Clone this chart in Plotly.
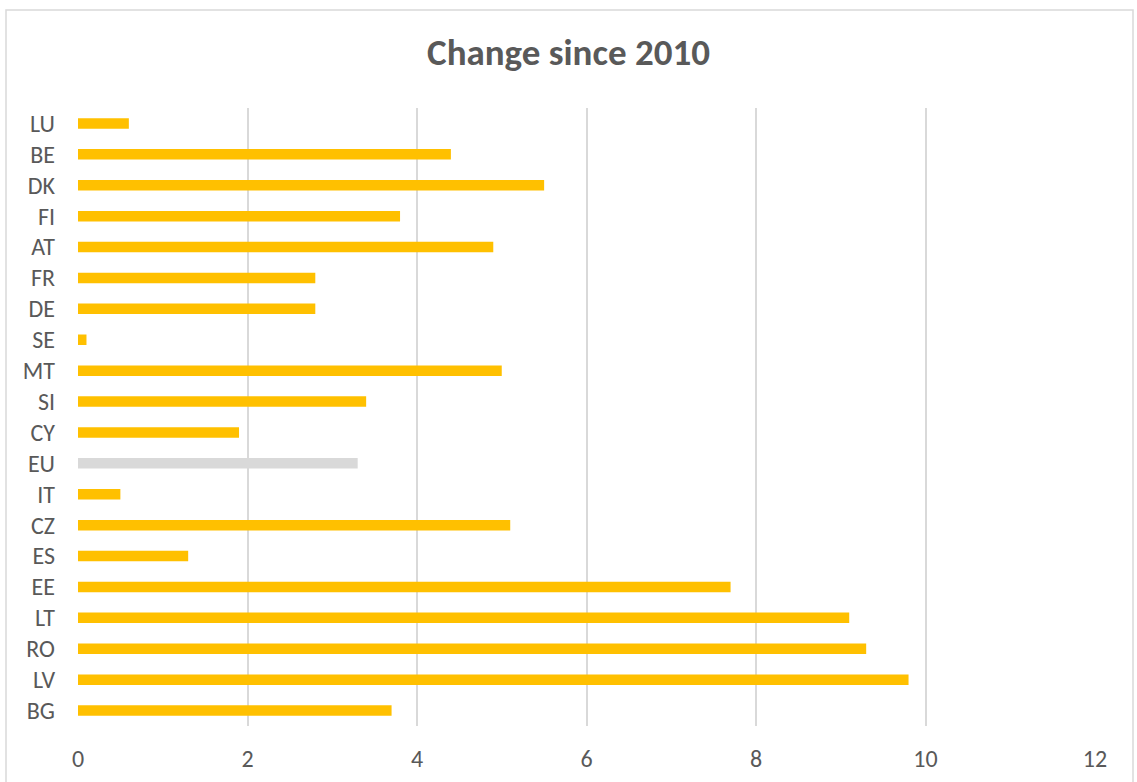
import plotly.graph_objects as go

# Countries listed bottom-to-top as they appear on the axis
countries = ["BG", "LV", "RO", "LT", "EE", "ES", "CZ", "IT", "EU", "CY",
             "SI", "MT", "SE", "DE", "FR", "AT", "FI", "DK", "BE", "LU"]
change = [3.7, 9.8, 9.3, 9.1, 7.7, 1.3, 5.1, 0.5, 3.3, 1.9,
          3.4, 5.0, 0.1, 2.8, 2.8, 4.9, 3.8, 5.5, 4.4, 0.6]
x_ticks = [0, 2, 4, 6, 8, 10, 12]

GOLD = "#FFC000"
GREY = "#D9D9D9"
TEXT = "#595959"
FONT = "Calibri, Carlito, Lato, sans-serif"

colors = [GREY if c == "EU" else GOLD for c in countries]

W, H = 1137, 782
L, R, T, B = 78, 42, 108, 56

fig = go.Figure(
    go.Bar(
        x=change,
        y=countries,
        orientation="h",
        marker=dict(color=colors, line=dict(width=0)),
        width=0.34,
        hoverinfo="x+y",
    )
)

# Chart frame in paper coordinates
pw, ph = W - L - R, H - T - B
x0 = (6 - L) / pw
x1 = (1133 - L) / pw
y_top = (H - B - 10) / ph
y_bot = (H - B - 790) / ph

fig.update_layout(
    width=W,
    height=H,
    margin=dict(l=L, r=R, t=T, b=B, autoexpand=False),
    paper_bgcolor="white",
    plot_bgcolor="white",
    showlegend=False,
    title=dict(
        text="<b>Change since 2010</b>",
        x=0.5,
        xanchor="center",
        y=1 - 52 / H,
        yanchor="middle",
        font=dict(family=FONT, size=37, color=TEXT),
    ),
    xaxis=dict(
        range=[0, 12],
        tickvals=x_ticks,
        showgrid=True,
        gridcolor=GREY,
        gridwidth=1.5,
        zeroline=False,
        showline=False,
        ticks="",
        tickfont=dict(family=FONT, size=24, color=TEXT),
        ticklabelstandoff=16,
        automargin=False,
        fixedrange=True,
    ),
    yaxis=dict(
        categoryorder="array",
        categoryarray=countries,
        range=[-0.5, len(countries) - 0.5],
        showgrid=False,
        zeroline=False,
        showline=False,
        ticks="",
        tickfont=dict(family=FONT, size=24, color=TEXT),
        ticklabelstandoff=22,
        automargin=False,
        fixedrange=True,
    ),
    shapes=[
        dict(type="rect", xref="paper", yref="paper",
             x0=x0, x1=x1, y0=y_bot, y1=y_top,
             line=dict(color=GREY, width=1.5), fillcolor="rgba(0,0,0,0)",
             layer="below"),
    ],
)

fig.write_html("out.html", config={"displayModeBar": False})
